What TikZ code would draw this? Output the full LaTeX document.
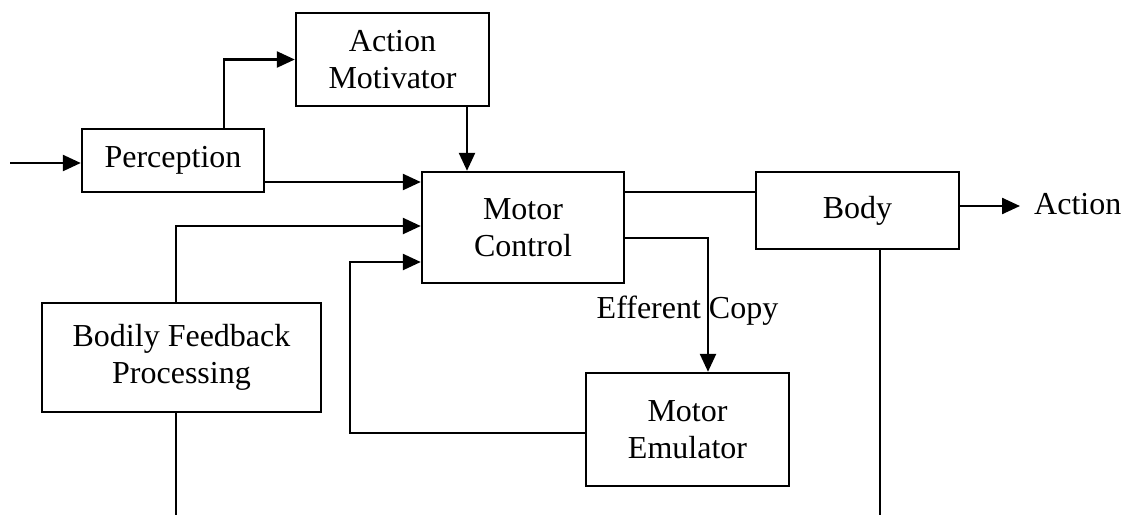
\documentclass[tikz,border=0pt]{standalone}
\usepackage{fontspec}
\setmainfont{Liberation Serif}
\usetikzlibrary{arrows.meta}
\begin{document}
\begin{tikzpicture}[x=1pt,y=-1pt,
  box/.style={draw,line width=2.4pt,rectangle,align=center,inner sep=0pt,
    font=\fontsize{32}{37}\selectfont},
  lbl/.style={inner sep=0pt,font=\fontsize{32}{37}\selectfont},
  conn/.style={line width=2.4pt},
  arr/.style={conn,-{Triangle[length=18pt,width=16pt]}}]
\useasboundingbox (0,0) rectangle (1130,515);

% blocks
\node[box,minimum width=193pt,minimum height=93pt] (am) at (392.5,59.5) {Action\\Motivator};
\node[box,minimum width=182pt,minimum height=63pt] (perc) at (173,160.5) {Perception};
\node[box,minimum width=202pt,minimum height=111pt] (mc) at (523,227.5) {Motor\\Control};
\node[box,minimum width=203pt,minimum height=77pt] (body) at (857.5,210.5) {Body};
\node[box,minimum width=279pt,minimum height=109pt] (bfp) at (181.5,357.5) {Bodily Feedback\\Processing};
\node[box,minimum width=203pt,minimum height=113pt] (me) at (687.5,429.5) {Motor\\Emulator};

% labels
\node[lbl,anchor=west] (action) at (1034,204) {Action};
\node[lbl] (eff) at (687.5,311) {Efferent Copy};

% helper coordinates for connector routes
\coordinate (in) at (10,163);
\coordinate (xp) at (224,0);
\coordinate (xa) at (467,0);
\coordinate (xb) at (176,0);
\coordinate (xl) at (350,0);
\coordinate (xe) at (708,0);
\coordinate (xbody) at (880,0);
\coordinate (y1) at (0,182);
\coordinate (y2) at (0,226);
\coordinate (y3) at (0,262);
\coordinate (yb) at (0,192);
\coordinate (ye) at (0,238);
\coordinate (yl) at (0,433);
\coordinate (ya) at (0,206);
\coordinate (bottom) at (0,515);

% connectors
\draw[arr] (in) -- (in -| perc.west);
\draw[arr] (perc.north -| xp) |- (am.west);
\draw[arr] (am.south -| xa) -- (mc.north -| xa);
\draw[arr] (perc.east |- y1) -- (mc.west |- y1);
\draw[arr] (bfp.north -| xb) |- (mc.west |- y2);
\draw[conn] (bfp.south -| xb) -- (bottom -| xb);
\draw[arr] (me.west |- yl) -| (xl |- y3) -- (mc.west |- y3);
\draw[conn] (mc.east |- yb) -- (body.west |- yb);
\draw[arr] (mc.east |- ye) -| (me.north -| xe);
\draw[arr] (body.east |- ya) -- ([xshift=-14pt]action.west |- ya);
\draw[conn] (body.south -| xbody) -- (bottom -| xbody);
\end{tikzpicture}
\end{document}
